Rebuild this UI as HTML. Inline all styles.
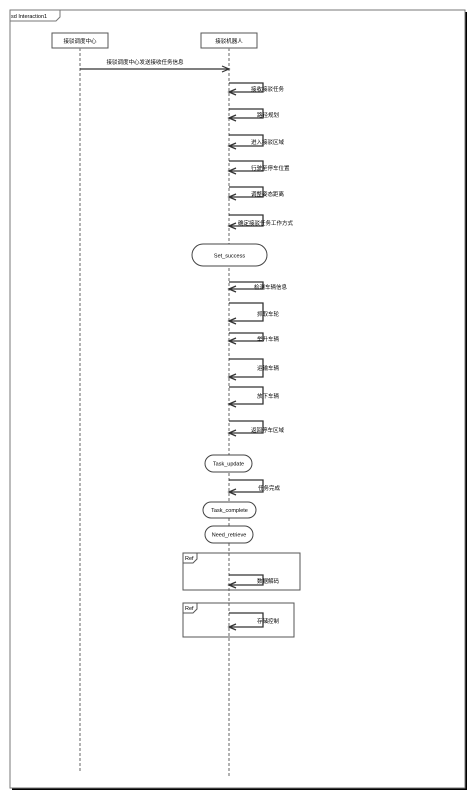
<!DOCTYPE html>
<html><head><meta charset="utf-8"><style>
html,body{margin:0;padding:0;background:#fff;}
svg text{font-family:"Liberation Sans","Noto Sans CJK SC",sans-serif;font-size:5.5px;fill:#000;}
</style></head><body>
<svg width="476" height="800" viewBox="0 0 476 800" xmlns="http://www.w3.org/2000/svg">
<rect x="0" y="0" width="476" height="800" fill="#fff"/>
<!-- frame shadow -->
<rect x="12" y="12" width="455" height="778" fill="#000"/>
<rect x="10" y="10" width="455" height="778" fill="#fff" stroke="#777" stroke-width="1"/>
<path d="M10,21 H56 L60,17 V10" fill="none" stroke="#777" stroke-width="1"/>
<text x="11" y="18">sd Interaction1</text>
<!-- lifelines -->
<rect x="52" y="33" width="56" height="15" fill="#fff" stroke="#555"/>
<text x="80" y="43" text-anchor="middle">接驳调度中心</text>
<rect x="201" y="33" width="56" height="15" fill="#fff" stroke="#555"/>
<text x="229" y="43" text-anchor="middle">接驳机器人</text>
<line x1="80" y1="48" x2="80" y2="772" stroke="#888" stroke-width="1.3" stroke-dasharray="3,2"/>
<line x1="229" y1="48" x2="229" y2="777" stroke="#888" stroke-width="1.3" stroke-dasharray="3,2"/>
<!-- message -->
<line x1="80" y1="69" x2="229" y2="69" stroke="#333" stroke-width="1.3"/>
<path d="M222,66 L229,69 L222,72" fill="none" stroke="#333" stroke-width="1.2"/>
<text x="145" y="64" text-anchor="middle">接驳调度中心发送接收任务信息</text>
<g fill="none" stroke="#333" stroke-width="1.3">
<path d="M229,83 H263 V92 H229"/><path d="M236,89 L229,92 L236,95"/>
<path d="M229,109 H263 V118 H229"/><path d="M236,115 L229,118 L236,121"/>
<path d="M229,135 H263 V146 H229"/><path d="M236,143 L229,146 L236,149"/>
<path d="M229,161 H263 V171 H229"/><path d="M236,168 L229,171 L236,174"/>
<path d="M229,187 H263 V197 H229"/><path d="M236,194 L229,197 L236,200"/>
<path d="M229,215 H263 V226 H229"/><path d="M236,223 L229,226 L236,229"/>
<path d="M229,282 H263 V289 H229"/><path d="M236,286 L229,289 L236,292"/>
<path d="M229,303 H263 V321 H229"/><path d="M236,318 L229,321 L236,324"/>
<path d="M229,333 H263 V341 H229"/><path d="M236,338 L229,341 L236,344"/>
<path d="M229,359 H263 V377 H229"/><path d="M236,374 L229,377 L236,380"/>
<path d="M229,387 H263 V404 H229"/><path d="M236,401 L229,404 L236,407"/>
<path d="M229,421 H263 V433 H229"/><path d="M236,430 L229,433 L236,436"/>
<path d="M229,480 H263 V492 H229"/><path d="M236,489 L229,492 L236,495"/>
</g>
<text x="251" y="91">接收接驳任务</text>
<text x="257" y="117">路径规划</text>
<text x="251" y="144">进入接驳区域</text>
<text x="251" y="170">行驶至停车位置</text>
<text x="251" y="196">调整姿态距离</text>
<text x="238" y="225">确定接驳任务工作方式</text>
<text x="254" y="289">检测车辆信息</text>
<text x="257" y="316">抓取车轮</text>
<text x="257" y="341">举升车辆</text>
<text x="257" y="370">运输车辆</text>
<text x="257" y="398">放下车辆</text>
<text x="251" y="432">返回停车区域</text>
<text x="258" y="490">任务完成</text>
<!-- states -->
<rect x="192" y="244" width="75" height="22" rx="11" fill="#fff" stroke="#444"/>
<text x="229.5" y="257.5" text-anchor="middle">Set_success</text>
<rect x="205" y="455" width="47" height="17" rx="8.5" fill="#fff" stroke="#444"/>
<text x="228.5" y="465.5" text-anchor="middle">Task_update</text>
<rect x="203" y="502" width="53" height="16" rx="8" fill="#fff" stroke="#444"/>
<text x="229.5" y="512" text-anchor="middle">Task_complete</text>
<rect x="205" y="526" width="48" height="17" rx="8.5" fill="#fff" stroke="#444"/>
<text x="229" y="536.5" text-anchor="middle">Need_retrieve</text>
<!-- ref boxes -->
<rect x="183" y="553" width="117" height="37" fill="none" stroke="#555"/>
<path d="M183,563 H193 L197,559 V553" fill="none" stroke="#555"/>
<text x="185" y="560">Ref</text>
<rect x="183" y="603" width="111" height="34" fill="none" stroke="#555"/>
<path d="M183,613 H193 L197,609 V603" fill="none" stroke="#555"/>
<text x="185" y="610">Ref</text>
<g fill="none" stroke="#333" stroke-width="1.3">
<path d="M229,575 H263 V585 H229"/><path d="M236,582 L229,585 L236,588"/>
<path d="M229,613 H263 V627 H229"/><path d="M236,624 L229,627 L236,630"/>
</g>
<text x="257" y="583">数据解码</text>
<text x="257" y="623">存储控制</text>
</svg>
</body></html>
